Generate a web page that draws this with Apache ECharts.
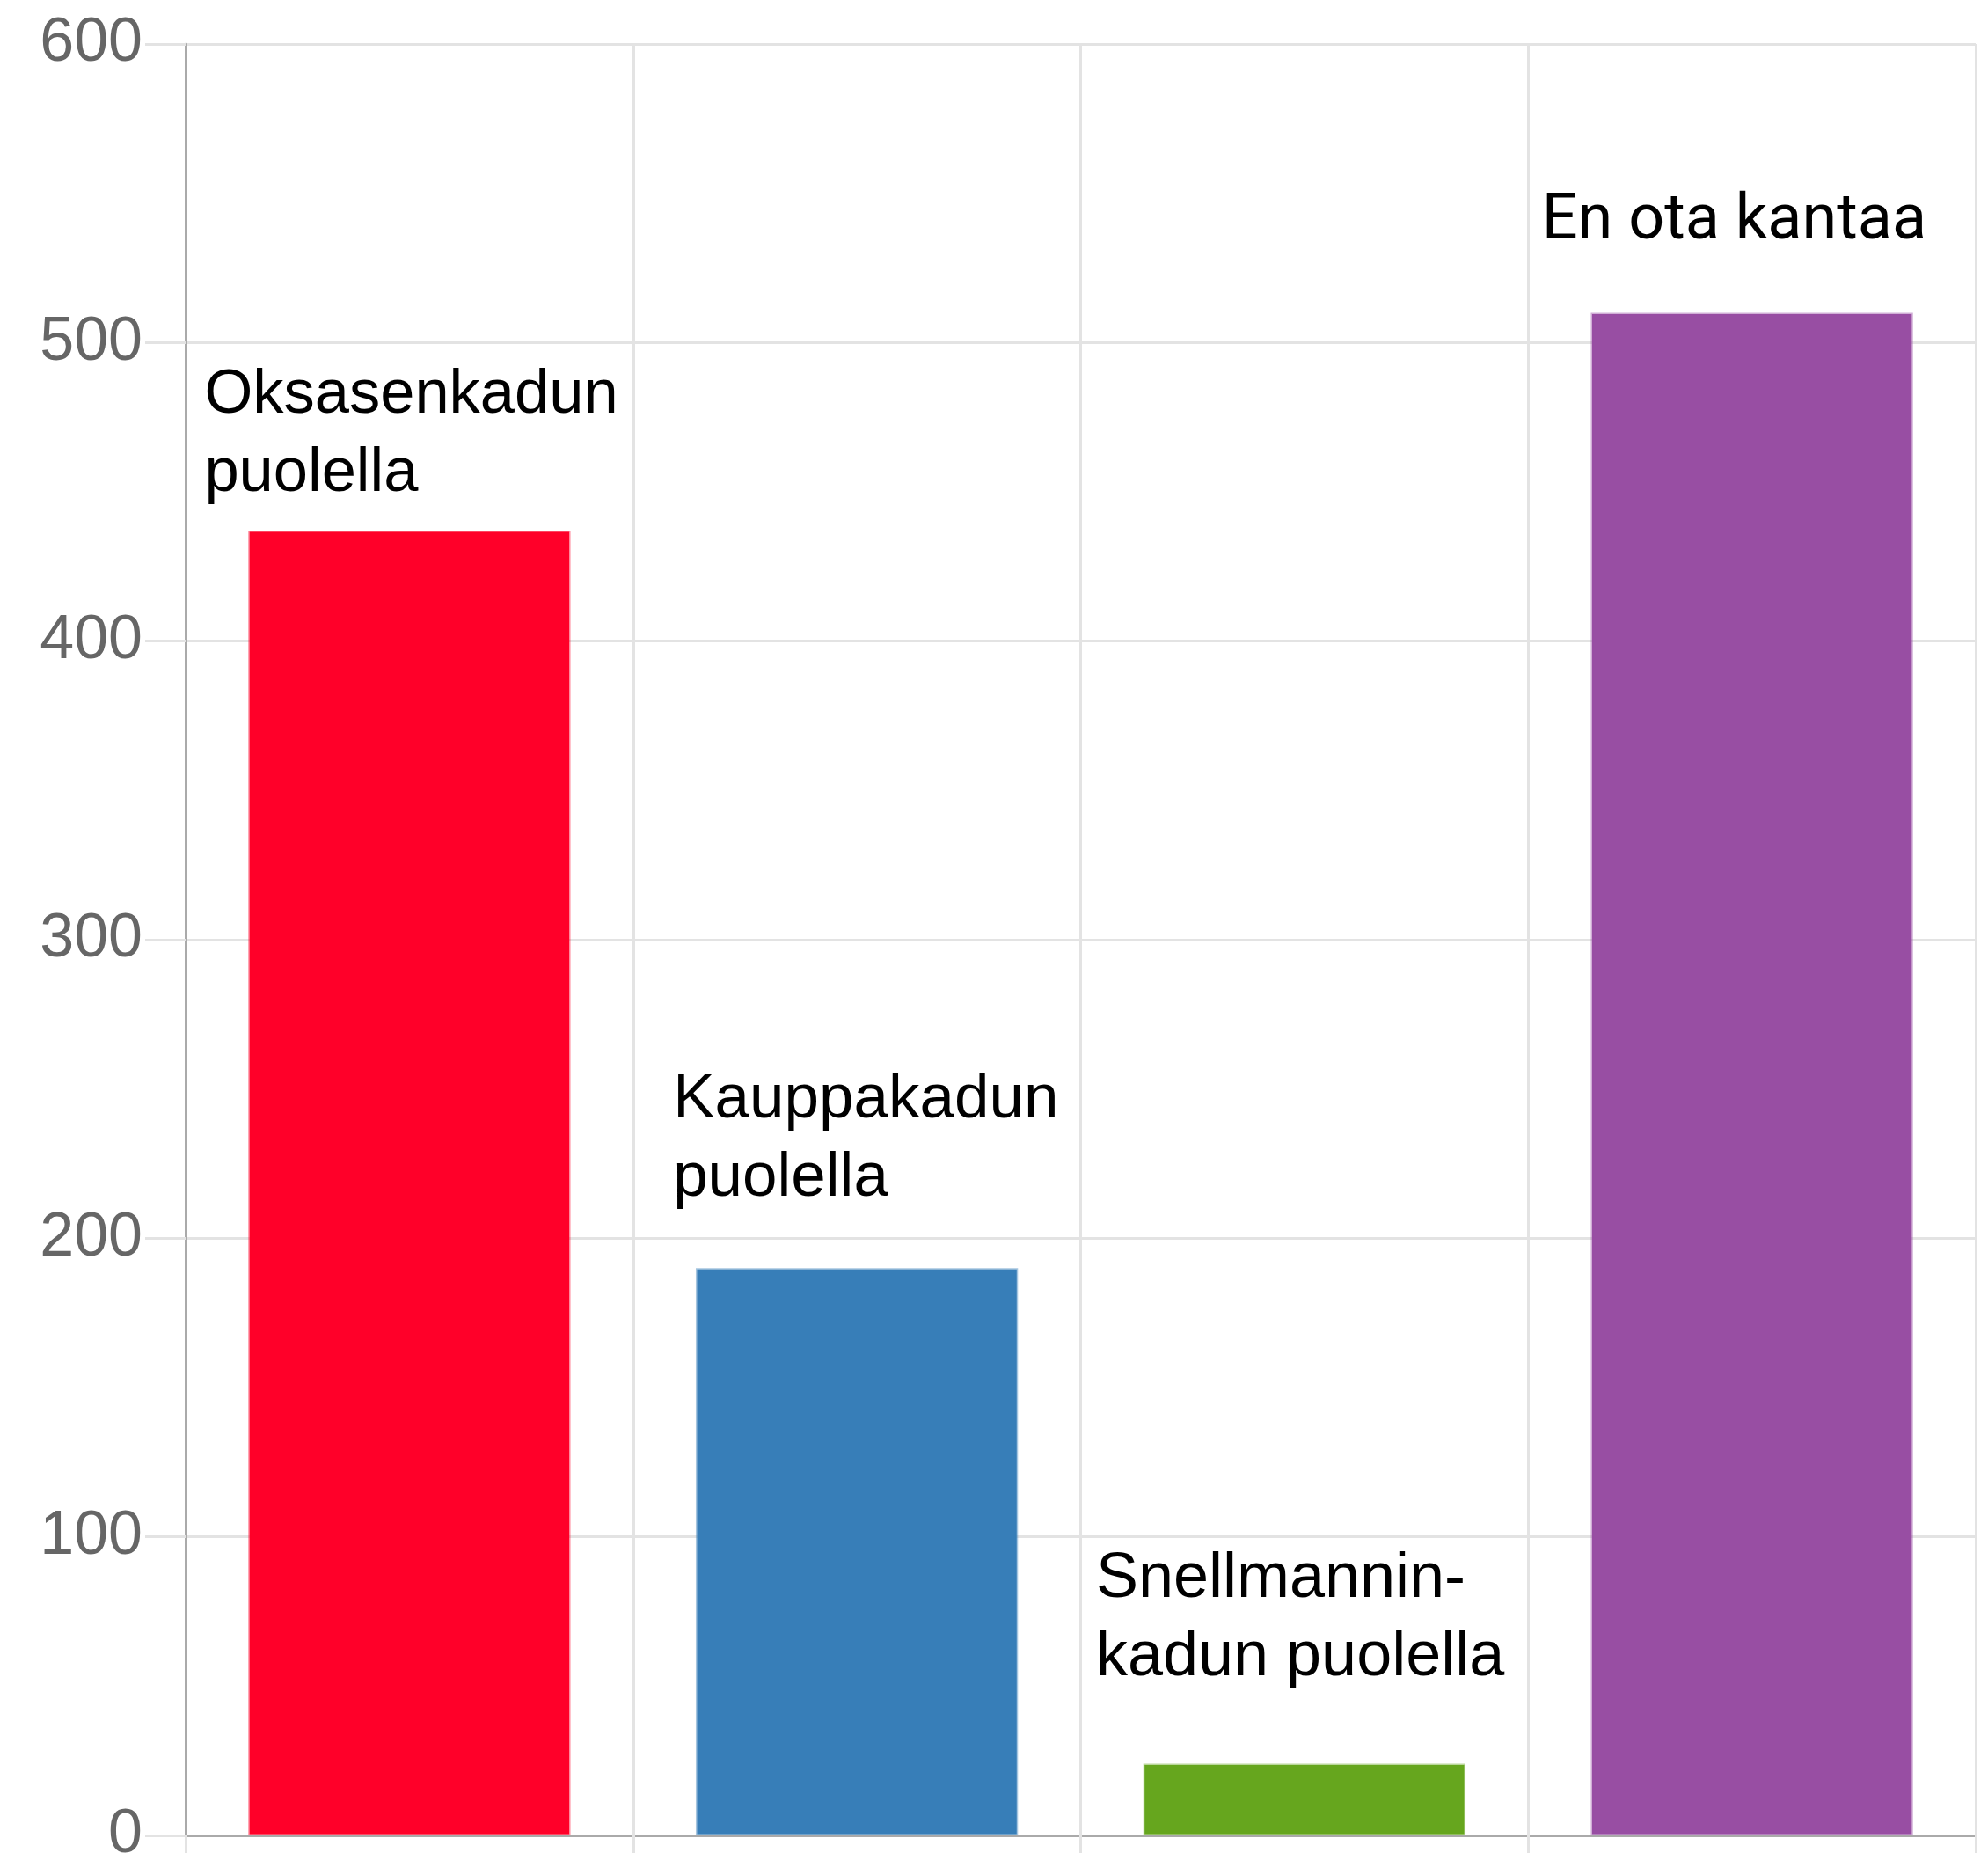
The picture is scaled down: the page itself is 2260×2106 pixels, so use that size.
<!DOCTYPE html>
<html>
<head>
<meta charset="utf-8">
<script src="https://cdn.jsdelivr.net/npm/echarts@6/dist/echarts.min.js"></script>
<style>
  html, body { margin: 0; padding: 0; background: #ffffff; }
  #chart { width: 2260px; height: 2106px; }
</style>
</head>
<body>
<div id="chart"></div>
<script>
// ---- data ----
const categories = [
  'Oksasenkadun\npuolella',
  'Kauppakadun\npuolella',
  'Snellmannin-\nkadun puolella',
  'En ota kantaa'
];
const values = [437, 190, 24, 510];
const barColors = ['#ff0029', '#377eb8', '#66a61e', '#984ea3'];
const yTicks = { min: 0, max: 600, interval: 100 };

// ---- layout (label placement relative to each bar) ----
const labelOffsets = [[-233, -20], [-209, -57], [-237, -76], [-239, -58]];
const labelFonts = ['"Liberation Sans", Arial, sans-serif', '"Liberation Sans", Arial, sans-serif',
                    '"Liberation Sans", Arial, sans-serif', 'Roboto, sans-serif'];
const labelSizes = [70.5, 71, 72, 72];

function hexToRgba(hex, a) {
  const n = parseInt(hex.slice(1), 16);
  return 'rgba(' + ((n >> 16) & 255) + ',' + ((n >> 8) & 255) + ',' + (n & 255) + ',' + a + ')';
}

const chart = echarts.init(document.getElementById('chart'), null, { renderer: 'canvas' });

const gridColor = '#e3e3e3';
const axisColor = '#aaaaaa';

const option = {
  animation: false,
  backgroundColor: '#ffffff',
  grid: { left: 211, right: 14, top: 50, bottom: 20, containLabel: false, outerBoundsMode: 'none' },
  xAxis: {
    type: 'category',
    data: categories,
    boundaryGap: true,
    axisLine: { show: true, lineStyle: { color: axisColor, width: 3 } },
    axisTick: { show: true, length: 22, lineStyle: { color: gridColor, width: 3 } },
    axisLabel: { show: false },
    splitLine: { show: true, lineStyle: { color: gridColor, width: 3 } }
  },
  yAxis: {
    type: 'value',
    min: yTicks.min,
    max: yTicks.max,
    interval: yTicks.interval,
    axisLine: { show: true, lineStyle: { color: axisColor, width: 3 } },
    axisTick: { show: true, length: 46, lineStyle: { color: gridColor, width: 3 } },
    axisLabel: {
      show: true,
      margin: 49,
      fontSize: 70,
      fontFamily: '"Liberation Sans", Arial, sans-serif',
      color: '#666666',
      verticalAlign: 'middle',
      padding: [0, 0, 16, 0]
    },
    splitLine: { show: true, lineStyle: { color: gridColor, width: 3 } }
  },
  series: [{
    type: 'bar',
    barWidth: '72%',
    data: values.map((v, i) => ({
      value: v,
      itemStyle: {
        color: barColors[i],
        borderColor: hexToRgba(barColors[i], 0.45),
        borderWidth: 3
      },
      label: {
        show: true,
        position: 'top',
        distance: 0,
        align: 'left',
        verticalAlign: 'bottom',
        offset: labelOffsets[i],
        formatter: () => categories[i],
        fontSize: labelSizes[i],
        lineHeight: 89,
        fontFamily: labelFonts[i],
        color: '#000000'
      }
    }))
  }]
};

chart.setOption(option);
</script>
</body>
</html>
